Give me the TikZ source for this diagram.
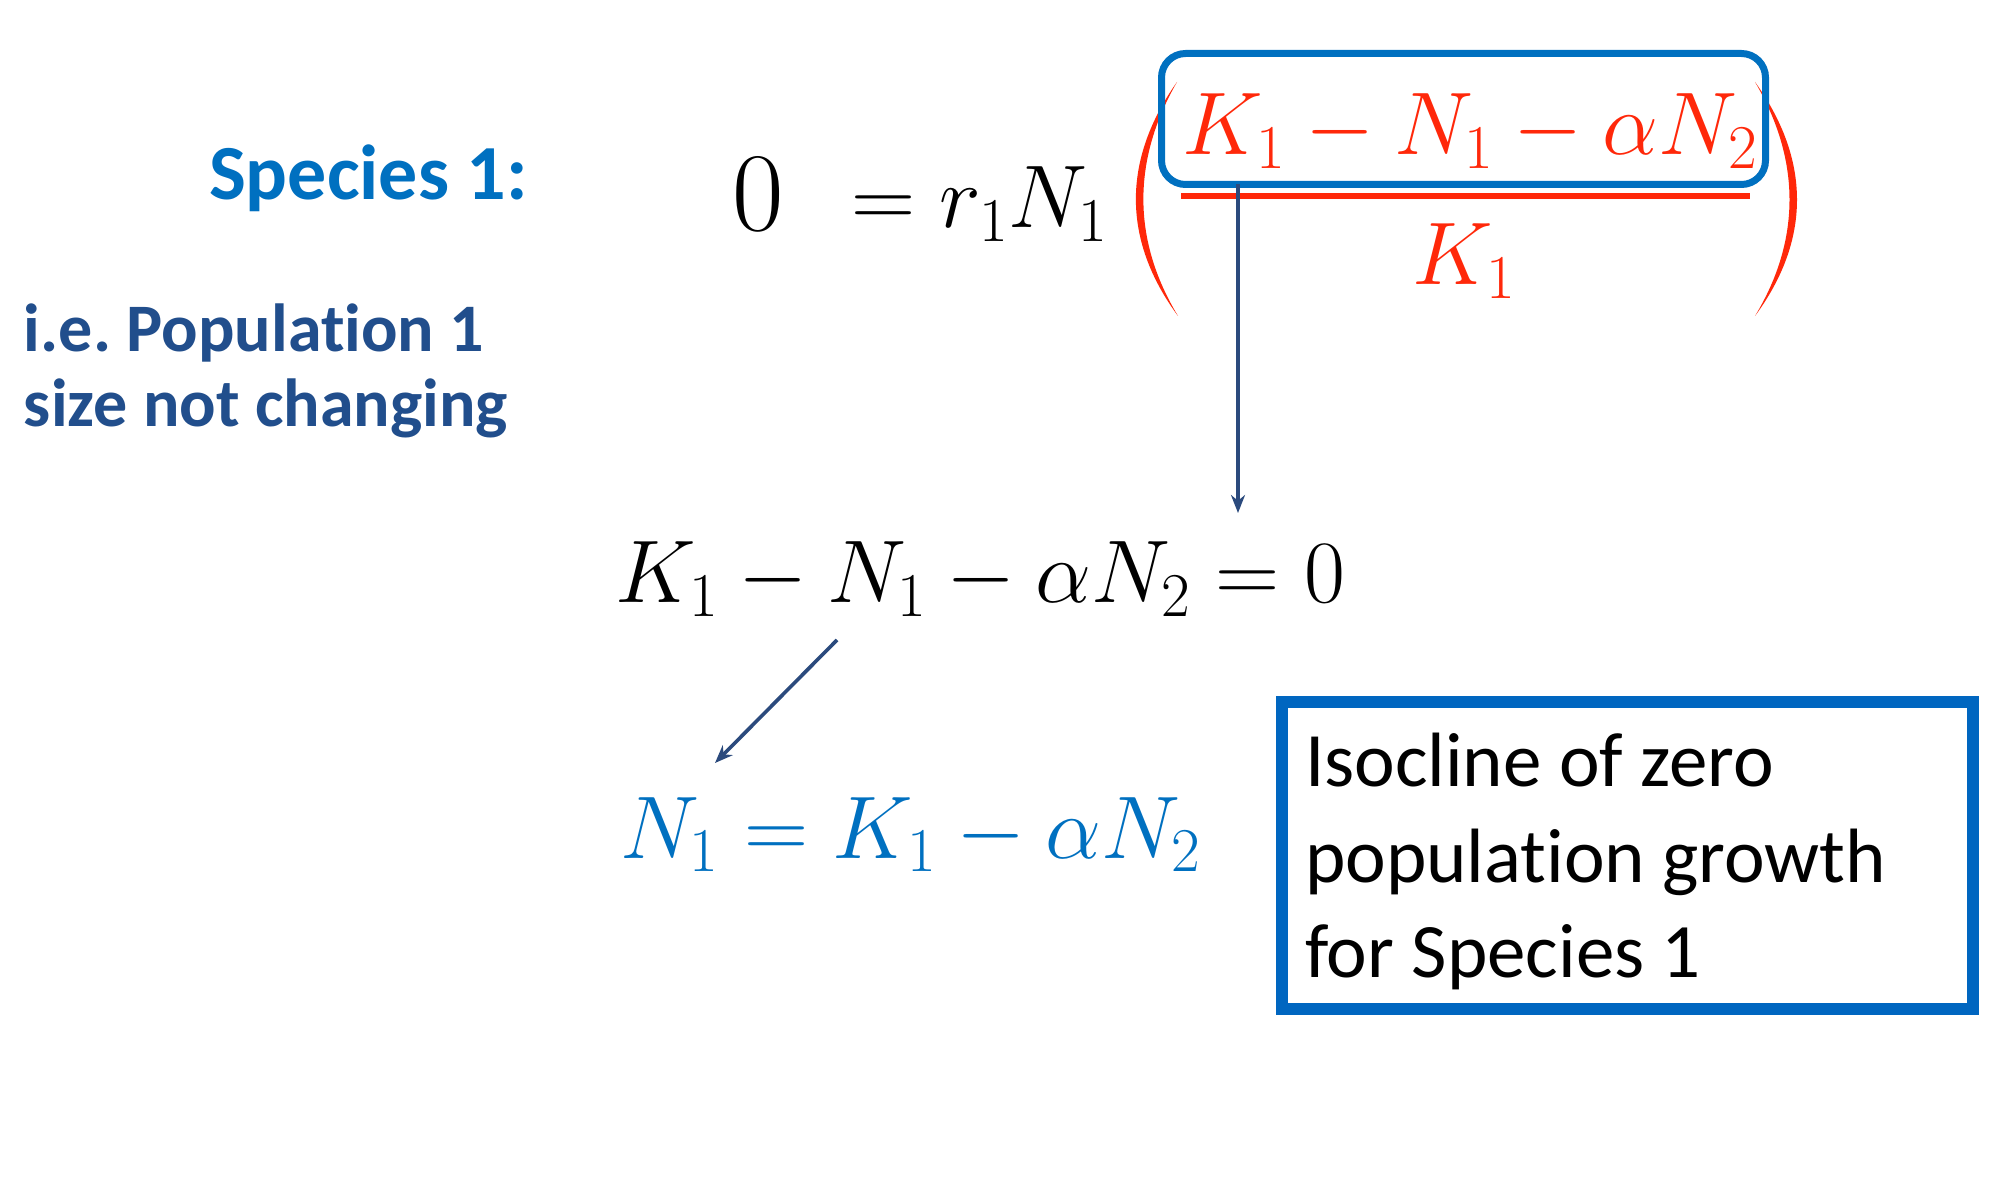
\RequirePackage{fix-cm}
\documentclass[tikz,border=0pt]{standalone}
\usepackage{fontspec}
\newfontfamily\carlito[Ligatures=NoCommon]{Carlito}
\usetikzlibrary{arrows.meta}
\definecolor{accblue}{RGB}{0,112,192}
\definecolor{darkblue}{RGB}{33,78,140}
\definecolor{eqred}{RGB}{255,40,10}
\definecolor{arrowblue}{RGB}{43,74,125}
\definecolor{boxblue}{RGB}{0,102,192}
\begin{document}
\begin{tikzpicture}[x=0.5pt,y=-0.5pt,
  every node/.style={inner sep=0pt,outer sep=0pt},
  mathtxt/.style={font=\fontsize{44.5}{50}\selectfont},
  headtxt/.style={font=\carlito\bfseries\fontsize{39}{46}\selectfont,text=accblue},
  notetxt/.style={font=\carlito\bfseries\fontsize{34}{40}\selectfont,text=darkblue},
  boxtxt/.style={font=\carlito\fontsize{38.5}{46}\selectfont},
  arr/.style={draw=arrowblue,line width=1.8pt,-{Stealth[length=9pt,width=7pt]}}]
\fill[white] (0,0) rectangle (2004,1192);
\useasboundingbox (0,0) rectangle (2004,1192);

% left labels
\node[anchor=base west,headtxt] (species) at (209,200) {Species 1:};
\node[anchor=base west,notetxt] (ie1) at (24,352) {i.e.\ Population 1};
\node[anchor=base west,notetxt] (ie2) at (24,427) {size not changing};

% main equation
\node[anchor=center,font=\fontsize{56}{60}\selectfont] (zero) at (758,194.5) {$0$};
\node[anchor=base west,mathtxt] (rhs) at (851,228) {$=r_1N_1$};
\fill[eqred] (1177,82) .. controls (1122,160) and (1122,240) .. (1178,316)
  .. controls (1132,240) and (1132,160) .. (1177,82) -- cycle;
\fill[eqred] (1755,82) .. controls (1811,160) and (1811,240) .. (1755,316)
  .. controls (1801,240) and (1801,160) .. (1755,82) -- cycle;
\node[anchor=base west,mathtxt,text=eqred] (num) at (1182,155) {$K_1-N_1-\alpha N_2$};
\draw[eqred,line width=3pt] (1181,196) -- (1750,196);
\node[anchor=base,mathtxt,text=eqred] (den) at (1464,285) {$K_1$};
\node[draw=accblue,line width=3.5pt,rounded corners=12pt,minimum width=302pt,minimum height=65.5pt] (numbox) at (1463.5,119) {};

% second equation
\node[anchor=base west,mathtxt] (eqzero) at (615,603) {$K_1-N_1-\alpha N_2=0$};
\coordinate (a1end) at (1238,513);
\draw[arr] (numbox.south -| a1end) -- (a1end);

% isocline
\coordinate (a2s) at (837,640);
\coordinate (a2e) at (715,763);
\draw[arr] (a2s) -- (a2e);
\node[anchor=base west,mathtxt,text=accblue] (iso) at (620,858) {$N_1=K_1-\alpha N_2$};

\node[draw=boxblue,line width=6pt,minimum width=345.75pt,minimum height=153.5pt] (isobox) at (1627.25,855) {};
\node[anchor=base west,boxtxt] (t1) at (1305,786) {Isocline of zero};
\node[anchor=base west,boxtxt] (t2) at (1305,882) {population growth};
\node[anchor=base west,boxtxt] (t3) at (1305,977) {for Species 1};
\end{tikzpicture}
\end{document}
